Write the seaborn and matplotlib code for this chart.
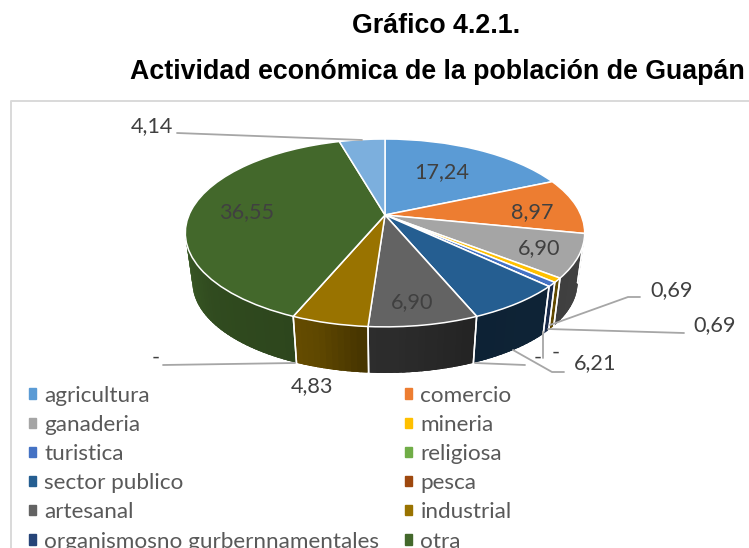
"""
Grafico 4.2.1 - pie 3D de actividad economica (Guapan)
"""
import numpy as np
import matplotlib.pyplot as plt
import seaborn as sns
from matplotlib.patches import Patch
from matplotlib.transforms import Transform

sns.set_theme(style='white')

categories = ['agricultura', 'comercio', 'ganaderia', 'mineria', 'turistica', 'religiosa',
              'sector publico', 'pesca', 'artesanal', 'industrial',
              'organismosno gurbernnamentales', 'otra']
values = [17.24, 8.97, 6.90, 0.69, 0.69, 0.0, 6.21, 0.0, 6.90, 4.83, 0.0, 36.55, 4.14]
colors = ['#5B9BD5', '#ED7D31', '#A5A5A5', '#FFC000', '#4472C4', '#70AD47', '#255E91',
          '#9E480E', '#636363', '#997300', '#264478', '#43682B', '#7CAFDD']
# etiquetas: indice del valor y centro del texto en pixeles
label_pos = [(12, 152, 126), (0, 442, 172), (11, 247, 212), (1, 532, 212), (2, 539, 248),
             (8, 412, 302), (3, 672, 290), (4, 715, 325), (6, 595, 363), (9, 312, 386)]
dash_pos = [(156, 358), (538, 358), (556, 353)]
leaders = [[(177, 133), (362, 140)],
           [(640, 297), (628, 297), (550, 325)],
           [(684, 333), (548, 329)],
           [(564, 372), (552, 372), (513, 350)],
           [(543, 332), (543, 358)],
           [(163, 365), (295, 363)],
           [(475, 363), (525, 365)]]

K = 0.191  # perspectiva del disco


class Perspective(Transform):
    input_dims = 2
    output_dims = 2

    def __init__(self, cx, cy, a, b):
        super().__init__()
        self.cx, self.cy, self.a, self.b = cx, cy, a, b

    def transform_non_affine(self, pts):
        pts = np.asarray(pts, dtype=float)
        w = 1 + K * pts[:, 1]
        return np.column_stack([self.cx + self.a * pts[:, 0] / w,
                                self.cy - self.b * pts[:, 1] / w])


top = Perspective(385, 215, 196, 90.5)
low = Perspective(385, 265, 189, 87.3)


def edge(tr, deg):
    rad = np.radians(deg)
    return tr.transform_non_affine(np.column_stack([np.sin(rad), np.cos(rad)]))


def shade(deg):
    return np.interp(deg, [101, 130, 160, 185, 195, 205, 230, 259],
                     [.40, .38, .36, .47, .62, .68, .72, .88])


fig = plt.figure(figsize=(7.49, 5.48), dpi=100)
ax = fig.add_axes([0, 0, 1, 1])
plt.rcParams['font.family'] = ['Lato', 'DejaVu Sans']

wedges, _ = ax.pie(values, colors=colors, startangle=90, counterclock=False,
                   wedgeprops=dict(edgecolor='white', linewidth=1.1))
ax.set_aspect('auto')
ax.set_xlim(0, 749)
ax.set_ylim(548, 0)
ax.axis('off')

for w in wedges:
    w.set_transform(top + ax.transData)
    w.set_zorder(3)

# pared lateral del pie, tiras de atras hacia adelante
vis_from = np.degrees(np.arccos(-K))
vis_to = 360 - vis_from
strips = []
for w, col in zip(wedges, colors):
    t1, t2 = 90 - w.theta2, 90 - w.theta1
    a, b = max(t1, vis_from), min(t2, vis_to)
    if b <= a:
        continue
    steps = np.linspace(a, b, max(2, int((b - a) / 1.5) + 1))
    for s, e in zip(steps[:-1], steps[1:]):
        strips.append((s, e, col, a, b))
    for t in (a, b):
        if vis_from < t < vis_to:
            seam = np.array([edge(top, [t])[0], edge(low, [t])[0]])
            ax.plot(seam[:, 0], seam[:, 1], color='white', lw=1.1, zorder=2.5)

for s, e, col, a, b in sorted(strips, key=lambda r: -abs((r[0] + r[1]) / 2 - 180)):
    # cada tira se solapa con la vecina para que no queden rayas
    deg = np.linspace(max(s - 1.2, a), min(e + 1.2, b), 5)
    poly = np.vstack([edge(top, deg), edge(low, deg)[::-1]])
    rgb = np.array(plt.matplotlib.colors.to_rgb(col)) * shade((s + e) / 2)
    ax.fill(poly[:, 0], poly[:, 1], facecolor=rgb, edgecolor='none', lw=0, zorder=2)

# marco del area del grafico
ax.plot([10.5, 10.5, 749], [548, 100.5, 100.5], color='#D9D9D9', lw=1.4, zorder=1)

for line in leaders:
    pts = np.array(line)
    ax.plot(pts[:, 0], pts[:, 1], color='#A6A6A6', lw=1.3, zorder=4)

for i, x, y in label_pos:
    ax.text(x, y, f'{values[i]:.2f}'.replace('.', ','), ha='center', va='center',
            fontsize=15.6, color='#404040', zorder=5)
for x, y in dash_pos:
    ax.text(x, y, '-', ha='center', va='center', fontsize=15.6, color='#404040', zorder=5)

ax.text(436, 26, 'Gráfico 4.2.1.', ha='center', va='center', fontsize=19.3,
        fontweight='bold', family='Liberation Sans', color='black')
ax.text(437, 72, 'Actividad económica de la población de Guapán', ha='center', va='center',
        fontsize=19.3, fontweight='bold', family='Liberation Sans', color='black')

# la leyenda se llena por filas en el original
names = categories[0::2] + categories[1::2]
cols = colors[0:12:2] + colors[1:12:2]
handles = [Patch(color=c) for c in cols]
ax.legend(handles, names, ncol=2, loc='upper left', bbox_to_anchor=(29, 385.5),
          bbox_transform=ax.transData, frameon=False, borderpad=0, borderaxespad=0,
          handlelength=0.32, handleheight=0.32, handletextpad=0.36, columnspacing=1.15,
          labelspacing=0.41, fontsize=16.2, labelcolor='#595959')

fig.savefig('out.png', dpi=100)
